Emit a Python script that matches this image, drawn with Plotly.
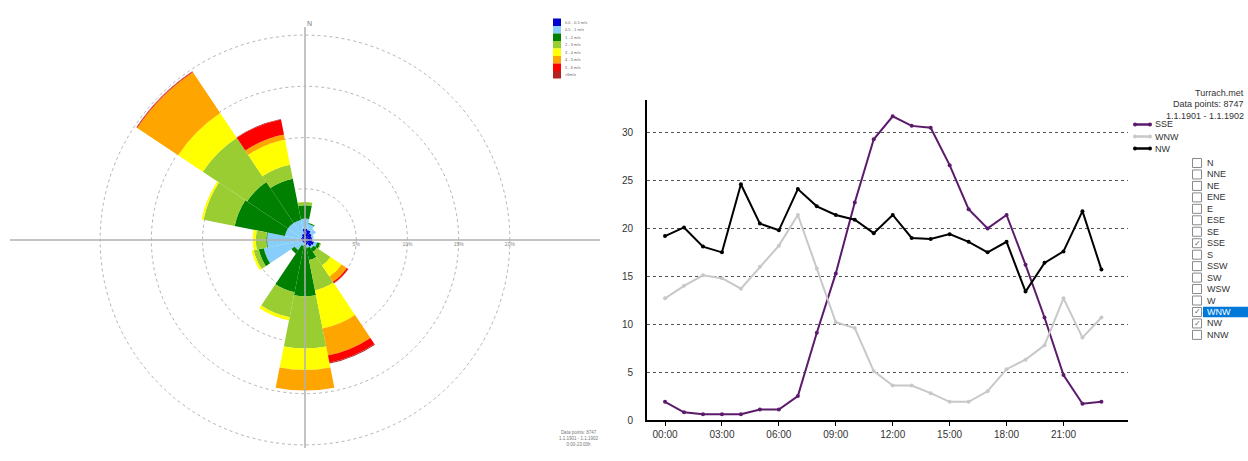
import plotly.graph_objects as go

W, H = 1248, 461
FONT = "Liberation Sans, Arial, sans-serif"

# ---------------- data ----------------
directions = ["N", "NNE", "NE", "ENE", "E", "ESE", "SE", "SSE",
              "S", "SSW", "SW", "WSW", "W", "WNW", "NW", "NNW"]
speed_labels = ["0.0 - 0.5 m/s", "0.5 - 1 m/s", "1 - 2 m/s", "2 - 3 m/s",
                "3 - 4 m/s", "4 - 5 m/s", "5 - 6 m/s", ">6m/s"]
speed_colors = ["#0000cc", "#87cefa", "#008000", "#9acd32",
                "#ffff00", "#ffa500", "#ff0000", "#b22222"]

# frequency (%) per direction for each speed class
freq_00_05 = [1.1, 1.0, 0.8, 0.7, 0.7, 0.9, 0.8, 0.5, 0.3, 0.3, 0.3, 0.3, 0.3, 0.4, 0.4, 0.6]
freq_05_1 = [1.0, 0.6, 0.5, 0.2, 0.1, 0.3, 0.2, 0.3, 0.2, 0.3, 0.9, 3.8, 3.4, 1.6, 1.6, 1.4]
freq_1_2 = [1.3, 0.1, 0.0, 0.0, 0.0, 0.3, 0.4, 1.2, 5.0, 4.6, 0.4, 0.5, 0.1, 5.0, 4.8, 4.1]
freq_2_3 = [0.3, 0.0, 0.0, 0.0, 0.0, 0.1, 1.6, 3.0, 5.1, 2.5, 0.0, 0.5, 1.0, 3.1, 5.2, 1.4]
freq_3_4 = [0.0, 0.0, 0.0, 0.0, 0.0, 0.0, 1.3, 3.8, 2.1, 0.3, 0.0, 0.2, 0.3, 0.2, 2.9, 2.5]
freq_4_5 = [0.0, 0.0, 0.0, 0.0, 0.0, 0.0, 0.6, 2.7, 2.0, 0.0, 0.0, 0.0, 0.0, 0.0, 4.8, 0.5]
freq_5_6 = [0.0, 0.0, 0.0, 0.0, 0.0, 0.0, 0.15, 0.7, 0.0, 0.0, 0.0, 0.0, 0.0, 0.0, 0.05, 1.5]
freq_6_up = [0.0, 0.0, 0.0, 0.0, 0.0, 0.0, 0.05, 0.1, 0.0, 0.0, 0.0, 0.0, 0.0, 0.0, 0.05, 0.05]
rose_series = [freq_00_05, freq_05_1, freq_1_2, freq_2_3, freq_3_4, freq_4_5, freq_5_6, freq_6_up]

radial_ticks = [5, 10, 15, 20]
radial_ticktext = ["5%", "10%", "15%", "20%"]

hours = list(range(24))
hour_labels = ["00:00", "01:00", "02:00", "03:00", "04:00", "05:00", "06:00", "07:00",
               "08:00", "09:00", "10:00", "11:00", "12:00", "13:00", "14:00", "15:00",
               "16:00", "17:00", "18:00", "19:00", "20:00", "21:00", "22:00", "23:00"]
sse = [1.9, 0.8, 0.6, 0.6, 0.6, 1.1, 1.1, 2.5, 9.1, 15.3, 22.7, 29.3,
       31.7, 30.7, 30.5, 26.6, 22.0, 20.0, 21.4, 16.2, 10.7, 4.7, 1.7, 1.9]
wnw = [12.7, 14.0, 15.1, 14.8, 13.7, 16.0, 18.2, 21.4, 15.8, 10.2, 9.6, 5.1,
       3.6, 3.6, 2.8, 1.9, 1.9, 3.0, 5.3, 6.3, 7.8, 12.7, 8.6, 10.7]
nw = [19.2, 20.1, 18.1, 17.5, 24.6, 20.5, 19.8, 24.1, 22.3, 21.4, 20.9, 19.5,
      21.4, 19.0, 18.9, 19.4, 18.6, 17.5, 18.6, 13.4, 16.4, 17.6, 21.8, 15.7]
line_names = ["SSE", "WNW", "NW"]
line_values = [sse, wnw, nw]
line_colors = ["#5c1a6b", "#c8c8c8", "#000000"]
y_ticks = [0, 5, 10, 15, 20, 25, 30]

checked = ["SSE", "WNW", "NW"]
selected = "WNW"
info_lines = ["Turrach.met", "Data points: 8747", "1.1.1901 - 1.1.1902"]
rose_info = ["Data points: 8747", "1.1.1901 - 1.1.1902", "0:00-23:00h"]


def px(x):
    return x / W


def py(y):
    return 1 - y / H


fig = go.Figure()

# ---------------- wind rose ----------------
for lbl, col, vals in zip(speed_labels, speed_colors, rose_series):
    fig.add_trace(go.Barpolar(
        r=vals, theta=directions, name=lbl, showlegend=False,
        marker=dict(color=col, line=dict(width=0)), subplot="polar"))

cx, cy, R = 305, 240, 211
fig.update_layout(polar=dict(
    domain=dict(x=[px(cx - R), px(cx + R)], y=[py(cy + R), py(cy - R)]),
    bgcolor="white", barmode="stack", bargap=0,
    angularaxis=dict(rotation=90, direction="clockwise", showticklabels=False,
                     showgrid=False, showline=False, ticks="",
                     categoryorder="array", categoryarray=directions),
    radialaxis=dict(range=[0, 20.6], tickvals=radial_ticks, ticktext=radial_ticktext,
                    showline=False, ticks="", gridcolor="#b4b4b4", griddash="dot",
                    gridwidth=1, angle=0, side="clockwise",
                    tickfont=dict(size=5, color="#888888", family=FONT)),
))

shapes = []
annotations = []
# cross lines over the rose
shapes.append(dict(type="line", xref="paper", yref="paper", layer="above",
                   x0=px(10), x1=px(600), y0=py(cy), y1=py(cy),
                   line=dict(color="#b0b0b0", width=1.5)))
shapes.append(dict(type="line", xref="paper", yref="paper", layer="above",
                   x0=px(cx), x1=px(cx), y0=py(27), y1=py(448),
                   line=dict(color="#b0b0b0", width=1.5)))
annotations.append(dict(text="N", x=px(cx), y=py(18), xref="paper", yref="paper",
                        showarrow=False, font=dict(size=7, color="#777777", family=FONT)))

# rose legend
for i, (lbl, col) in enumerate(zip(speed_labels, speed_colors)):
    y0 = 18.5 + i * 7.5
    shapes.append(dict(type="rect", xref="paper", yref="paper",
                       x0=px(553), x1=px(561), y0=py(y0), y1=py(y0 + 7.5),
                       fillcolor=col, line=dict(width=0)))
    annotations.append(dict(text=lbl, x=px(563), y=py(y0 + 3.75), xref="paper", yref="paper",
                            xanchor="left", yanchor="middle", showarrow=False,
                            font=dict(size=4, color="#666666", family=FONT)))
annotations.append(dict(text="<br>".join(rose_info), x=px(579), y=py(449), xref="paper",
                        yref="paper", showarrow=False, align="center",
                        font=dict(size=4.5, color="#777777", family=FONT)))

# ---------------- line chart ----------------
for name, vals, col in zip(line_names, line_values, line_colors):
    fig.add_trace(go.Scatter(x=hours, y=vals, name=name, mode="lines+markers",
                             line=dict(color=col, width=2),
                             marker=dict(color=col, size=4), showlegend=False))

fig.update_layout(
    xaxis=dict(domain=[px(647), px(1128)], range=[-0.95, 24.4],
               tickvals=hours[::3], ticktext=hour_labels[::3],
               showline=True, linecolor="#000000", linewidth=2, ticks="outside",
               ticklen=4, tickcolor="#000000", showgrid=False, zeroline=False,
               tickfont=dict(size=10, color="#333333", family=FONT)),
    yaxis=dict(domain=[py(420), py(100)], range=[0, 33.4], tickvals=y_ticks,
               showline=True, linecolor="#000000", linewidth=2, ticks="",
               showgrid=True, gridcolor="#555555", griddash="dot", gridwidth=1,
               zeroline=False, ticklabelstandoff=10,
               tickfont=dict(size=10, color="#333333", family=FONT)),
)

# line legend
for i, (name, col) in enumerate(zip(line_names, line_colors)):
    yy = 124.5 + i * 12
    shapes.append(dict(type="line", xref="paper", yref="paper",
                       x0=px(1135), x1=px(1150), y0=py(yy), y1=py(yy),
                       line=dict(color=col, width=2.5)))
    for xx in (1135, 1150):
        shapes.append(dict(type="circle", xref="paper", yref="paper",
                           x0=px(xx - 2), x1=px(xx + 2), y0=py(yy + 2), y1=py(yy - 2),
                           fillcolor=col, line=dict(width=0)))
    annotations.append(dict(text=name, x=px(1153), y=py(yy), xref="paper", yref="paper",
                            xanchor="left", yanchor="middle", showarrow=False,
                            font=dict(size=9, color="#333333", family=FONT)))

# info text top right
for i, t in enumerate(info_lines):
    annotations.append(dict(text=t, x=px(1246), y=py(92.5 + i * 11.5), xref="paper",
                            yref="paper", xanchor="right", yanchor="middle",
                            showarrow=False,
                            font=dict(size=9, color="#333333", family=FONT)))

# direction checkbox list
for i, d in enumerate(directions):
    yy = 163 + i * 11.46
    if d == selected:
        shapes.append(dict(type="rect", xref="paper", yref="paper",
                           x0=px(1203), x1=px(1248), y0=py(yy - 5.3), y1=py(yy + 5.3),
                           fillcolor="#0078d7", line=dict(width=0)))
    shapes.append(dict(type="rect", xref="paper", yref="paper",
                       x0=px(1192.5), x1=px(1201.5), y0=py(yy - 4.5), y1=py(yy + 4.5),
                       fillcolor="white", line=dict(color="#8a8a8a", width=1)))
    if d in checked:
        annotations.append(dict(text="✓", x=px(1197), y=py(yy), xref="paper", yref="paper",
                                showarrow=False, xanchor="center", yanchor="middle",
                                font=dict(size=8, color="#666666", family="DejaVu Sans")))
    annotations.append(dict(text=d, x=px(1205), y=py(yy), xref="paper", yref="paper",
                            xanchor="left", yanchor="middle", showarrow=False,
                            font=dict(size=9, color="white" if d == selected else "#333333",
                                      family=FONT)))

fig.update_layout(
    width=W, height=H, margin=dict(l=0, r=0, t=0, b=0, autoexpand=False),
    paper_bgcolor="white", plot_bgcolor="white",
    showlegend=False, shapes=shapes, annotations=annotations,
    font=dict(family=FONT),
)

fig.write_html("out.html", config={"displayModeBar": False},
               post_script="document.body.style.margin='0px';document.body.style.overflow='hidden';")
